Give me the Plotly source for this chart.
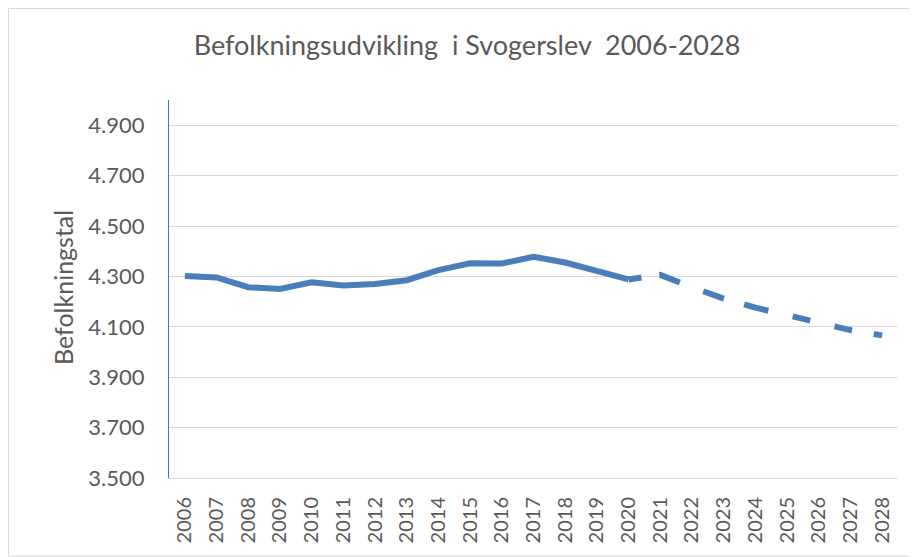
import plotly.graph_objects as go

years = [str(y) for y in range(2006, 2029)]
historic = [4302, 4296, 4257, 4250, 4277, 4264, 4270, 4285, 4325, 4352, 4351, 4378, 4355, 4320, 4288,
            None, None, None, None, None, None, None, None]
forecast = [None] * 14 + [4288, 4306, 4257, 4212, 4176, 4145, 4112, 4087, 4066]

FONT = "Lato"
BLUE = "#4A7EBB"
GREY_TXT = "#595959"
DASH = "13px,18px,22px,25px,22px,21px,25px,25px,18px,25px,18px,22px,30px,200px"

# page has an 8px body margin; figure sized to fill the rest of the window
OFF = 8
W, H = 917 - OFF, 557 - OFF
L, T = 169 - OFF, 100 - OFF
R = W - (898 - OFF)
B = H - (478 - OFF)
pw, ph = W - L - R, H - T - B


def px(x):
    return (x - OFF - L) / pw


def py(y):
    return (H - B - (y - OFF)) / ph


fig = go.Figure()
fig.add_trace(go.Scatter(x=years, y=historic, mode="lines",
                         line=dict(color=BLUE, width=6), showlegend=False))
fig.add_trace(go.Scatter(x=years, y=forecast, mode="lines",
                         line=dict(color=BLUE, width=6, dash=DASH), showlegend=False))

fig.update_layout(
    width=W, height=H,
    margin=dict(l=L, r=R, t=T, b=B, autoexpand=False),
    paper_bgcolor="white", plot_bgcolor="white",
    separators=",.",
    font=dict(family=FONT, color=GREY_TXT),
    title=dict(text="Befolkningsudvikling  i Svogerslev  2006-2028",
               x=(467 - OFF) / W, xanchor="center", xref="container",
               y=1 - (46 - OFF) / H, yanchor="middle", yref="container",
               font=dict(family=FONT, size=27, color=GREY_TXT)),
    xaxis=dict(type="category", range=[-0.5, 22.5], showgrid=False,
               showline=True, linecolor="#d9d9d9", linewidth=1,
               tickangle=-90, tickfont=dict(family=FONT, size=20, color=GREY_TXT),
               ticks="", ticklabelstandoff=10, fixedrange=True),
    yaxis=dict(range=[3500, 5000], tick0=3500, dtick=200, tickformat=",.0f",
               showgrid=True, gridcolor="#d9d9d9", gridwidth=1,
               showline=True, linecolor="#4472C4", linewidth=1,
               zeroline=False,
               tickfont=dict(family=FONT, size=22, color=GREY_TXT),
               ticks="", ticklabelstandoff=19),
    shapes=[dict(type="rect", xref="paper", yref="paper",
                 x0=px(8.5), x1=px(913), y0=py(556), y1=py(8.5),
                 line=dict(color="#d9d9d9", width=1), fillcolor="rgba(0,0,0,0)",
                 layer="below")],
    annotations=[dict(text="Befolkningstal", xref="paper", yref="paper",
                      x=px(63), y=py(288), textangle=-90, showarrow=False,
                      xanchor="center", yanchor="middle",
                      font=dict(family=FONT, size=25, color=GREY_TXT))],
)

fig.write_html("out.html")
